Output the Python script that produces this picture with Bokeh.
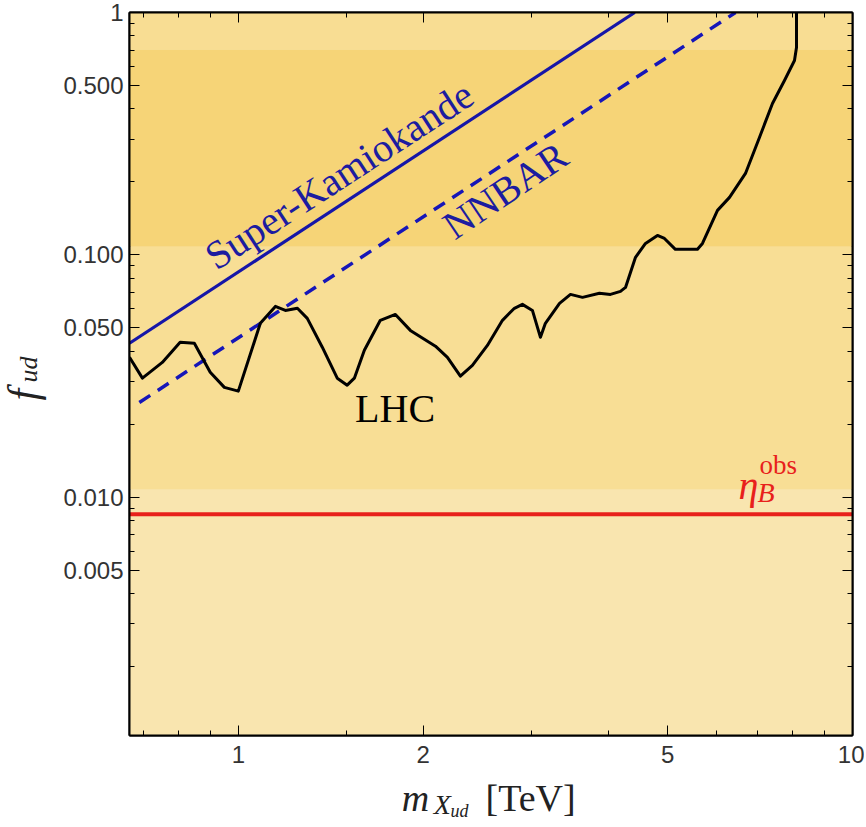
from bokeh.plotting import figure
from bokeh.models import Range1d, LogAxis, FixedTicker, Label
from bokeh.layouts import row, column
from bokeh.core.properties import value
from bokeh.embed import file_html
from bokeh.resources import INLINE
import math

# ---------------- data ----------------
mass_min, mass_max = 0.665, 10.0
f_min, f_max = 0.00104, 1.0

lhc_mass = [0.665, 0.698, 0.752, 0.804, 0.848, 0.900, 0.949, 1.000, 1.086, 1.149,
            1.193, 1.248, 1.295, 1.370, 1.449, 1.504, 1.545, 1.604, 1.703, 1.802,
            1.906, 2.094, 2.190, 2.299, 2.405, 2.544, 2.692, 2.815, 2.901, 3.012,
            3.104, 3.162, 3.334, 3.474, 3.634, 3.872, 4.036, 4.190, 4.270, 4.433,
            4.602, 4.813, 4.941, 5.148, 5.592, 5.698, 6.028, 6.306, 6.695, 7.055,
            7.408, 7.749, 8.045, 8.106, 8.106]
lhc_f = [0.0378, 0.0310, 0.0360, 0.0436, 0.0432, 0.0328, 0.0284, 0.0274, 0.0522, 0.0613,
         0.0590, 0.0602, 0.0547, 0.0416, 0.0310, 0.0290, 0.0310, 0.0404, 0.0537, 0.0568,
         0.0488, 0.0420, 0.0378, 0.0316, 0.0350, 0.0423, 0.0537, 0.0602, 0.0625, 0.0590,
         0.0457, 0.0522, 0.0631, 0.0687, 0.0668, 0.0694, 0.0687, 0.0707, 0.0734, 0.0977,
         0.1115, 0.1203, 0.1169, 0.1054, 0.1054, 0.1115, 0.1526, 0.1727, 0.2168, 0.3051,
         0.4215, 0.5243, 0.6340, 0.7173, 1.0]

superk_mass = [0.665, 4.42]
superk_f = [0.0432, 1.0]
nnbar_mass = [0.69, 6.45]
nnbar_f = [0.0246, 1.0]
eta_obs_mass = [mass_min, mass_max]
eta_obs_f = [0.0085, 0.0085]

band_bottom = [f_min, 0.0108, 0.1084, 0.704]
band_top = [0.0108, 0.1084, 0.704, f_max]
band_colors = ["#F9E5AF", "#F8DE95", "#F6D477", "#F8DD93"]

x_ticks = [1, 2, 5, 10]
x_tick_labels = ["1", "2", "5", "10"]
x_minor = [0.7, 0.8, 0.9, 1.5, 3, 4, 6, 7, 8, 9]
y_ticks = [0.005, 0.01, 0.05, 0.1, 0.5, 1]
y_tick_labels = ["0.005", "0.010", "0.050", "0.100", "0.500", "1"]
y_minor = [0.002, 0.003, 0.004, 0.006, 0.007, 0.008, 0.009,
           0.02, 0.03, 0.04, 0.06, 0.07, 0.08, 0.09,
           0.2, 0.3, 0.4, 0.6, 0.7, 0.8, 0.9]

# ---------------- layout sizes ----------------
YLAB_W = 60
FRAME = 723
B_LEFT, B_RIGHT, B_TOP, B_BOTTOM = 67, 12, 12, 42
P_W = B_LEFT + FRAME + B_RIGHT
P_H = B_TOP + FRAME + B_BOTTOM
XLAB_H = 50
TOTAL_H = P_H + XLAB_H
FRAME_L = YLAB_W + B_LEFT
FRAME_R = FRAME_L + FRAME

# ---------------- main figure ----------------
p = figure(x_axis_type="log", y_axis_type="log",
           x_range=Range1d(mass_min, mass_max), y_range=Range1d(f_min, f_max),
           frame_width=FRAME, frame_height=FRAME,
           min_border_left=B_LEFT, min_border_right=B_RIGHT,
           min_border_top=B_TOP, min_border_bottom=B_BOTTOM,
           output_backend="svg", toolbar_location=None)
p.background_fill_color = band_colors[0]
p.border_fill_color = "white"
p.outline_line_color = "black"
p.outline_line_width = 2
p.grid.visible = False

p.quad(left=[mass_min] * 4, right=[mass_max] * 4, bottom=band_bottom, top=band_top,
       fill_color=band_colors, line_color=None)

p.line(eta_obs_mass, eta_obs_f, line_color="#E8211B", line_width=4)
p.line(superk_mass, superk_f, line_color="#1616A8", line_width=3.2)
p.line(nnbar_mass, nnbar_f, line_color="#1616B8", line_width=3.5, line_dash="13 9")
p.line(lhc_mass, lhc_f, line_color="black", line_width=3, line_join="round")

tick_font = "Liberation Sans"
xt = FixedTicker(ticks=x_ticks, minor_ticks=x_minor)
yt = FixedTicker(ticks=y_ticks, minor_ticks=y_minor)

for ax in p.xaxis:
    ax.ticker = xt
    ax.major_label_overrides = {t: s for t, s in zip(x_ticks, x_tick_labels)}
    ax.major_label_standoff = 10
for ax in p.yaxis:
    ax.ticker = yt
    ax.major_label_overrides = {t: s for t, s in zip(y_ticks, y_tick_labels)}
    ax.major_label_standoff = 6

for ax in list(p.xaxis) + list(p.yaxis):
    ax.major_tick_in = 10
    ax.major_tick_out = 0
    ax.minor_tick_in = 5
    ax.minor_tick_out = 0
    ax.major_tick_line_color = "black"
    ax.minor_tick_line_color = "black"
    ax.axis_line_color = "black"
    ax.axis_line_width = 2
    ax.major_label_text_font = tick_font
    ax.major_label_text_font_size = "24px"
    ax.major_label_text_color = "#333333"

for loc, tk in (("right", yt), ("above", xt)):
    a = LogAxis(ticker=tk, major_tick_in=10, major_tick_out=0, minor_tick_in=5,
                minor_tick_out=0, major_label_text_font_size="8px",
                major_label_text_color=None, major_label_standoff=0,
                axis_line_color="black", axis_line_width=2)
    p.add_layout(a, loc)

serif = "Liberation Serif"
p.add_layout(Label(x=1.46, y=0.213, text="Super-Kamiokande", angle=33, angle_units="deg",
                   text_align="center", text_baseline="middle", text_font=serif,
                   text_font_size="40px", text_color="#1C1CA0"))
p.add_layout(Label(x=2.72, y=0.1845, text="NNBAR", angle=34, angle_units="deg",
                   text_align="center", text_baseline="middle", text_font=serif,
                   text_font_size="40px", text_color="#1C1CA0"))
p.add_layout(Label(x=1.80, y=0.0233, text="LHC", text_align="center",
                   text_baseline="middle", text_font=serif, text_font_size="40px",
                   text_color="black"))
p.add_layout(Label(x=6.52, y=0.0112, text="η", text_align="left", text_baseline="alphabetic",
                   text_font=serif, text_font_style="italic", text_font_size="40px",
                   text_color="#E8211B"))
p.add_layout(Label(x=6.52, y=0.0112, text="B", x_offset=19, y_offset=-7, text_align="left",
                   text_baseline="alphabetic", text_font=serif, text_font_style="italic",
                   text_font_size="28px", text_color="#E8211B"))
p.add_layout(Label(x=6.52, y=0.0112, text="obs", x_offset=21, y_offset=20, text_align="left",
                   text_baseline="alphabetic", text_font=serif, text_font_size="27px",
                   text_color="#E8211B"))

# ---------------- axis-title panels (pixel coordinate figures) ----------------
def blank_fig(w, h, xr, yr, **kw):
    f = figure(width=w, height=h, x_range=xr, y_range=yr, min_border=0,
               output_backend="svg", toolbar_location=None, **kw)
    f.axis.visible = False
    f.grid.visible = False
    f.outline_line_color = None
    f.background_fill_color = "white"
    f.border_fill_color = "white"
    return f

# y title: f_ud
yfig = blank_fig(YLAB_W, TOTAL_H, Range1d(0, YLAB_W), Range1d(TOTAL_H, 0))
ylab_text = ["f", "ud"]
ylab_x = [22, 28]
ylab_y = [400, 382]
ylab_size = ["42px", "26px"]
for t, xx, yy, s in zip(ylab_text, ylab_x, ylab_y, ylab_size):
    yfig.text(x=[xx], y=[yy], text=[t], angle=math.pi / 2, text_align="left",
              text_baseline="alphabetic", text_font=value(serif),
              text_font_style="italic", text_font_size=value(s), text_color="#222222")

# x title: m_{X_ud} [TeV]
xfig = blank_fig(P_W, XLAB_H, Range1d(FRAME_L, FRAME_R), Range1d(TOTAL_H, P_H))
xfig.min_border_left = B_LEFT
xfig.min_border_right = B_RIGHT
xlab_text = ["m", "X", "ud", "[TeV]"]
xlab_x = [400, 432, 449, 484]
xlab_y = [797, 804, 810, 797]
xlab_size = ["38px", "28px", "18px", "38px"]
xlab_style = ["italic", "italic", "italic", "normal"]
for t, xx, yy, s, st in zip(xlab_text, xlab_x, xlab_y, xlab_size, xlab_style):
    xfig.text(x=[xx], y=[yy], text=[t], text_align="left", text_baseline="alphabetic",
              text_font=value(serif), text_font_style=st, text_font_size=value(s),
              text_color="#222222")

layout = row(yfig, column(p, xfig, spacing=0), spacing=0)
open("out.html", "w").write(file_html(layout, INLINE))
